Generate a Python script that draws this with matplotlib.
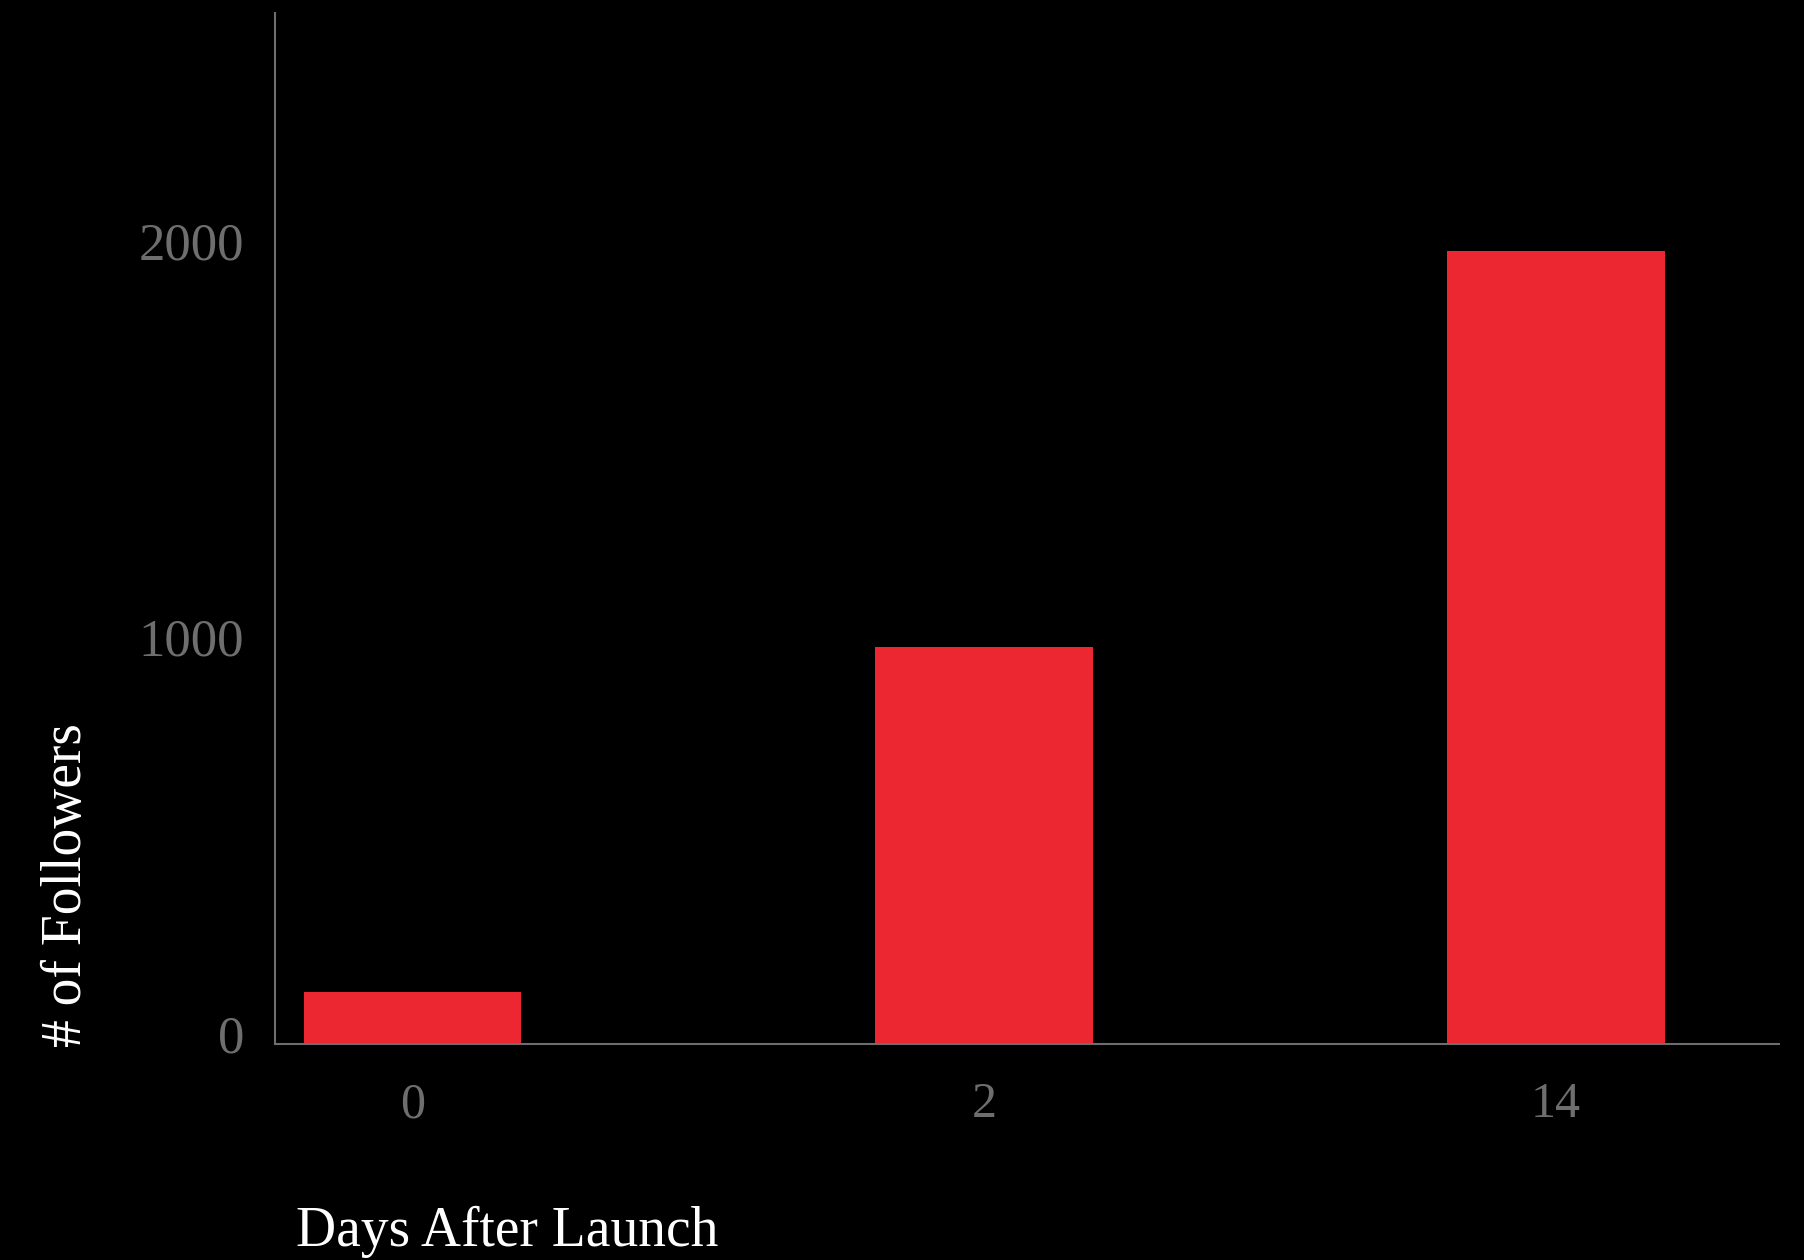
import numpy as np
import matplotlib
matplotlib.use('Agg')
import matplotlib.pyplot as plt
import matplotlib.transforms as mtransforms

# dados
days = ['0', '2', '14']
followers = [130, 1000, 2000]
yticks = [0, 1000, 2000]

plt.rcParams['font.family'] = ['Liberation Serif', 'DejaVu Serif']

fig = plt.figure(figsize=(18.04, 12.6), dpi=100, facecolor='black')
ax = fig.add_axes([0.1524, 0.1714, 0.8338, 0.8183], facecolor='black')

x = np.arange(len(days))
ax.bar(x, followers, width=0.38, color='#ec2731')

ax.set_xlim(-0.24, 2.39)
ax.set_ylim(0, 2600)
ax.set_xticks(x)
ax.set_xticklabels(days)
ax.set_yticks(yticks)

grey = '#6e6e6e'
for s in ['top', 'right']:
    ax.spines[s].set_visible(False)
for s in ['left', 'bottom']:
    ax.spines[s].set_color(grey)
    ax.spines[s].set_linewidth(1.5)

ax.tick_params(axis='both', length=0, labelcolor=grey)
ax.tick_params(axis='x', pad=27, labelsize=36)
ax.tick_params(axis='y', pad=22, labelsize=38)

# rótulos do eixo y um pouco acima da marca, como no original
offset = mtransforms.ScaledTranslation(0, 10 / 100, fig.dpi_scale_trans)
for lbl in ax.get_yticklabels():
    lbl.set_transform(lbl.get_transform() + offset)

ax.set_xlabel('Days After Launch', color='white', fontsize=40, ha='left', va='center')
ax.xaxis.set_label_coords(0.014, -0.182)
ax.set_ylabel('# of Followers', color='white', fontsize=40, ha='left', va='center')
ax.yaxis.set_label_coords(-0.138, -0.003)

fig.savefig('out.png', dpi=100, facecolor='black')
